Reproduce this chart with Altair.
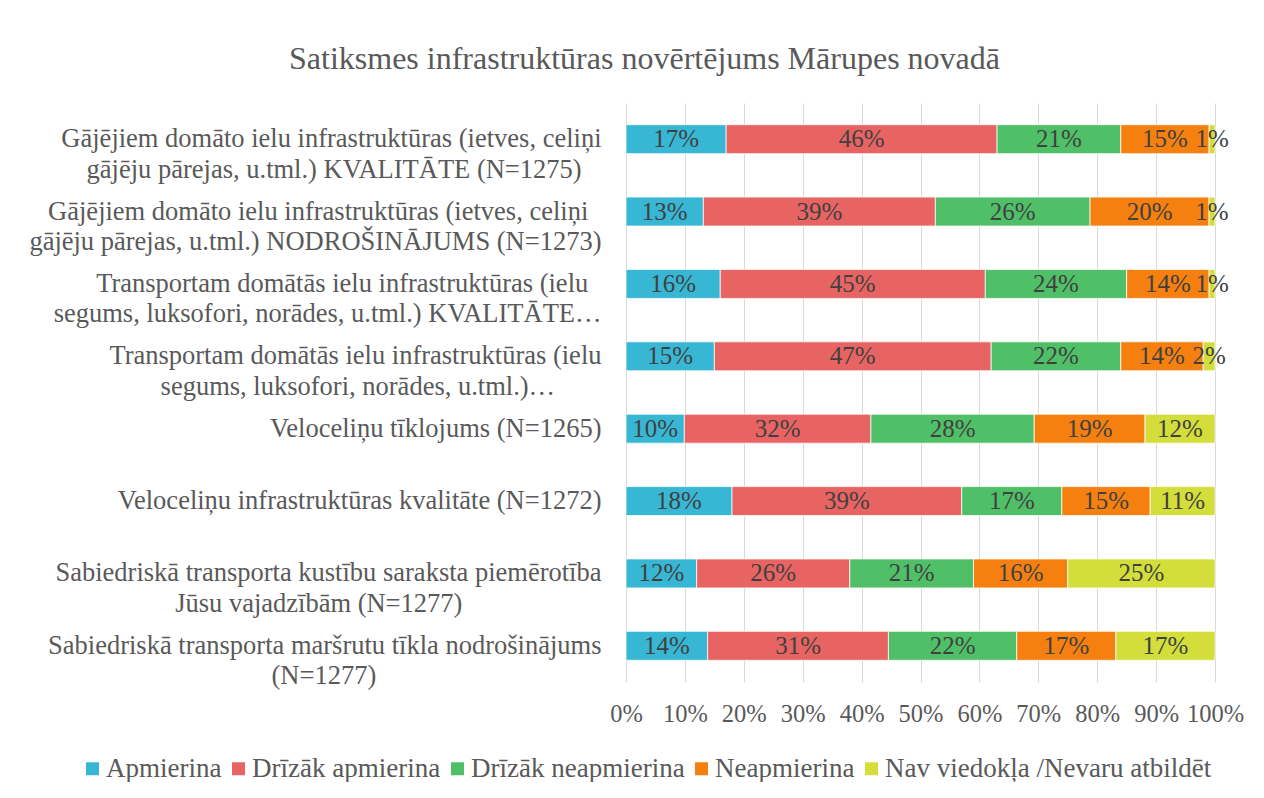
import altair as alt
import pandas as pd

# ---- data ----
category_lines = [
    ["Gājējiem domāto ielu infrastruktūras (ietves, celiņi", "gājēju pārejas, u.tml.) KVALITĀTE (N=1275)"],
    ["Gājējiem domāto ielu infrastruktūras (ietves, celiņi", "gājēju pārejas, u.tml.) NODROŠINĀJUMS (N=1273)"],
    ["Transportam domātās ielu infrastruktūras (ielu", "segums, luksofori, norādes, u.tml.) KVALITĀTE…"],
    ["Transportam domātās ielu infrastruktūras (ielu", "segums, luksofori, norādes, u.tml.)…"],
    ["Veloceliņu tīklojums (N=1265)"],
    ["Veloceliņu infrastruktūras kvalitāte (N=1272)"],
    ["Sabiedriskā transporta kustību saraksta piemērotība", "Jūsu vajadzībām (N=1277)"],
    ["Sabiedriskā transporta maršrutu tīkla nodrošinājums", "(N=1277)"],
]
# trailing non-breaking spaces so that lines look centred within each label block
line_pad = [
    [0, 3],
    [2, 0],
    [2, 0],
    [0, 7],
    [0],
    [0],
    [0, 21],
    [0, 34],
]

series = ["Apmierina", "Drīzāk apmierina", "Drīzāk neapmierina", "Neapmierina",
          "Nav viedokļa /Nevaru atbildēt"]
colors = ["#38B7D5", "#E86462", "#50C068", "#F5800F", "#D3DE3B"]

apmierina = [17, 13, 16, 15, 10, 18, 12, 14]
drizak_apmierina = [46, 39, 45, 47, 32, 39, 26, 31]
drizak_neapmierina = [21, 26, 24, 22, 28, 17, 21, 22]
neapmierina = [15, 20, 14, 14, 19, 15, 16, 17]
nav_viedokla = [1, 1, 1, 2, 12, 11, 25, 17]

x_ticks = [0, 0.1, 0.2, 0.3, 0.4, 0.5, 0.6, 0.7, 0.8, 0.9, 1.0]

title_text = "Satiksmes infrastruktūras novērtējums Mārupes novadā"

# ---- build table ----
categories = []
for lines, pads in zip(category_lines, line_pad):
    parts = []
    for l, p in zip(lines, pads):
        parts.append(l + ("\u00a0" * p + "\u200b" if p else ""))
    categories.append("|".join(parts))

all_values = [apmierina, drizak_apmierina, drizak_neapmierina, neapmierina, nav_viedokla]
rows = []
for si, (s, vals) in enumerate(zip(series, all_values)):
    for ci, c in enumerate(categories):
        rows.append({"category": c, "series": s, "order": si, "value": vals[ci]})
df = pd.DataFrame(rows)

FONT = "Liberation Serif"

base = alt.Chart(df).transform_stack(
    stack="value", groupby=["category"], as_=["x0", "x1"],
    offset="normalize", sort=[alt.SortField("order", "ascending")]
).transform_calculate(
    mid="(datum.x0 + datum.x1) / 2",
    lab="datum.value + '%'"
)

y_enc = alt.Y(
    "category:N", sort=categories, title=None,
    scale=alt.Scale(paddingInner=0.6, paddingOuter=0.3),
    axis=alt.Axis(
        labelExpr="split(datum.label, '|')",
        labelFont=FONT, labelFontSize=26.5, labelColor="#595959",
        labelLineHeight=30.5, labelPadding=25, labelLimit=800,
        ticks=False, domain=False, grid=False,
    ),
)

bars = base.mark_bar(stroke="white", strokeWidth=0.75).encode(
    x=alt.X(
        "x0:Q", title=None,
        scale=alt.Scale(domain=[0, 1], nice=False),
        axis=alt.Axis(
            values=x_ticks, format=".0%", labelFont=FONT, labelFontSize=24.5,
            labelColor="#595959", labelPadding=20, ticks=False, domain=False,
            grid=True, gridColor="#D9D9D9", gridWidth=1, labelOverlap=False,
            labelBound=False, labelFlush=False,
        ),
    ),
    x2="x1:Q",
    y=y_enc,
    color=alt.Color(
        "series:N", sort=series,
        scale=alt.Scale(domain=series, range=colors),
        legend=alt.Legend(
            title=None, orient="none", legendX=-547, legendY=652,
            direction="horizontal", columns=5, columnPadding=3,
            symbolType="square", symbolSize=169, symbolStrokeWidth=0,
            labelFont=FONT, labelFontSize=27, labelColor="#595959",
            labelOffset=0, labelLimit=600,
        ),
    ),
    order=alt.Order("order:Q"),
)

texts = base.mark_text(font=FONT, fontSize=25, color="#404040", baseline="middle",
                       align="center").encode(
    x=alt.X("mid:Q"),
    y=alt.Y("category:N", sort=categories),
    text="lab:N",
)

chart = alt.layer(bars, texts).properties(
    width=589, height=579,
    title=alt.TitleParams(
        text=title_text, font=FONT, fontSize=32, fontWeight="normal",
        color="#595959", anchor="middle", dx=-276, dy=33, offset=35,
        baseline="alphabetic",
    ),
    autosize=alt.AutoSizeParams(type="none"),
    padding={"left": 618, "top": 95, "right": 30, "bottom": 100},
).configure(
    background="white", font=FONT
).configure_view(stroke=None).configure_legend(
    labelFont=FONT, labelFontSize=27, labelColor="#595959"
).configure_axis(labelFont=FONT).configure_text(font=FONT)

chart.save("out.html", embed_options={"renderer": "svg", "actions": False})
